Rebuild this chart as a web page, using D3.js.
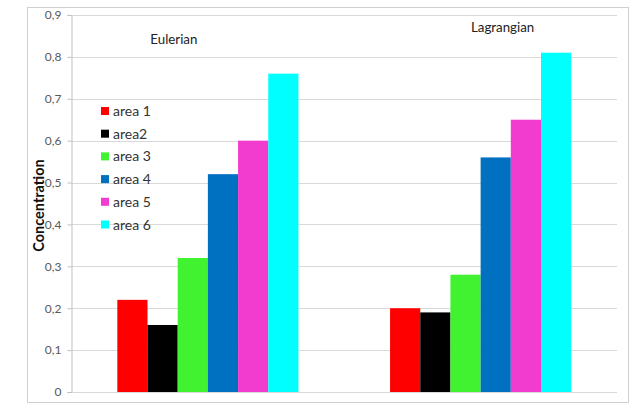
<!DOCTYPE html>
<html>
<head>
<meta charset="utf-8">
<script src="https://cdn.jsdelivr.net/npm/d3@7"></script>
<style>
  html, body { margin: 0; padding: 0; background: #fff; }
  svg { display: block; }
  text { font-family: Lato, "Open Sans", "Liberation Sans", sans-serif; }
</style>
</head>
<body>
<svg id="chart" width="641" height="406"></svg>
<script>
// Methods compared
const categories = ["Eulerian", "Lagrangian"];
// Areas (series)
const seriesNames = ["area 1", "area2", "area 3", "area 4", "area 5", "area 6"];
const seriesColors = ["#ff0000", "#000000", "#40f22f", "#0070c0", "#f23ccf", "#00ffff"];
// Concentration per area, one array per method
const eulerian = [0.22, 0.16, 0.32, 0.52, 0.60, 0.76];
const lagrangian = [0.20, 0.19, 0.28, 0.56, 0.65, 0.81];
const yTicks = [0, 0.1, 0.2, 0.3, 0.4, 0.5, 0.6, 0.7, 0.8, 0.9];

const valuesByCategory = [eulerian, lagrangian];

const svg = d3.select("#chart");
const margin = { left: 71.5, right: 641 - 617, top: 15, bottom: 406 - 392 };
const W = 641, H = 406;

// Outer chart frame
svg.append("rect")
  .attr("x", 27.5).attr("y", 7.5)
  .attr("width", 601).attr("height", 395)
  .attr("fill", "#fff").attr("stroke", "#d0d0d0").attr("stroke-width", 1);

const x0 = d3.scaleBand()
  .domain(categories)
  .range([margin.left, W - margin.right])
  .paddingInner(0.336)
  .paddingOuter(0.168);

const x1 = d3.scaleBand()
  .domain(seriesNames)
  .range([0, x0.bandwidth()]);

const y = d3.scaleLinear()
  .domain([0, 0.9])
  .range([H - margin.bottom, margin.top]);

const fmt = d => d === 0 ? "0" : d3.format(".1f")(d).replace(".", ",");

// Gridlines
svg.append("g")
  .selectAll("line")
  .data(yTicks)
  .join("line")
  .attr("x1", margin.left).attr("x2", W - margin.right)
  .attr("y1", d => Math.round(y(d)) + 0.5).attr("y2", d => Math.round(y(d)) + 0.5)
  .attr("stroke", "#d9d9d9").attr("stroke-width", 1);

// Y axis
const yAxis = d3.axisLeft(y).tickValues(yTicks).tickFormat(fmt).tickSize(4).tickPadding(6);
const gy = svg.append("g")
  .attr("transform", `translate(${margin.left},0)`)
  .call(yAxis);
gy.select(".domain").attr("stroke", "#bfbfbf");
gy.selectAll(".tick line").attr("stroke", "#bfbfbf");
gy.selectAll(".tick text")
  .attr("fill", "#595959")
  .style("font-size", "12px")
  .style("font-family", "Lato, 'Open Sans', sans-serif");

// Bars
const groups = svg.append("g")
  .selectAll("g")
  .data(categories.map((c, i) => ({ cat: c, vals: valuesByCategory[i] })))
  .join("g")
  .attr("transform", d => `translate(${x0(d.cat)},0)`);

groups.selectAll("rect")
  .data(d => d.vals.map((v, j) => ({ name: seriesNames[j], value: v, color: seriesColors[j] })))
  .join("rect")
  .attr("x", d => x1(d.name))
  .attr("width", x1.bandwidth())
  .attr("y", d => y(d.value))
  .attr("height", d => y(0) - y(d.value))
  .attr("fill", d => d.color);

// Method labels inside the plot
const catLabelPos = [
  { dx: -34, yv: 0.83 },
  { dx: 22, yv: 0.86 }
];
svg.append("g")
  .selectAll("text")
  .data(categories)
  .join("text")
  .attr("x", (d, i) => x0(d) + x0.bandwidth() / 2 + catLabelPos[i].dx)
  .attr("y", (d, i) => y(catLabelPos[i].yv))
  .attr("text-anchor", "middle")
  .attr("fill", "#222")
  .style("font-size", "13.3px")
  .text(d => d);

// Y axis title
svg.append("text")
  .attr("transform", `translate(44,${(y(0) + y(0.9)) / 2 + 2}) rotate(-90)`)
  .attr("text-anchor", "middle")
  .attr("fill", "#111")
  .style("font-size", "14.5px")
  .style("font-weight", "bold")
  .text("Concentration");

// Legend
const legend = svg.append("g").attr("transform", "translate(101,111)");
const rowH = 22.7;
const items = legend.selectAll("g")
  .data(seriesNames)
  .join("g")
  .attr("transform", (d, i) => `translate(0,${i * rowH})`);
items.append("rect")
  .attr("x", 0).attr("y", -4)
  .attr("width", 8).attr("height", 8)
  .attr("fill", (d, i) => seriesColors[i]);
items.append("text")
  .attr("x", 12).attr("y", 5)
  .attr("fill", "#333")
  .style("font-size", "14px")
  .text(d => d);
</script>
</body>
</html>
